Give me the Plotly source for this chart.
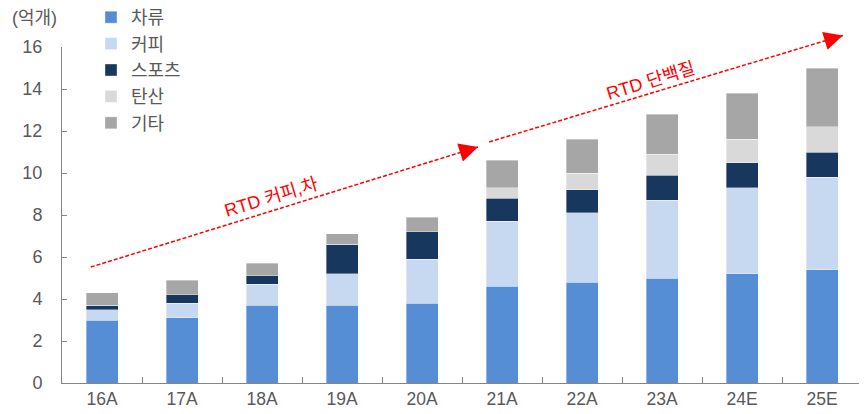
import math
import plotly.graph_objects as go

categories = ["16A", "17A", "18A", "19A", "20A", "21A", "22A", "23A", "24E", "25E"]
tea = [3.0, 3.1, 3.7, 3.7, 3.8, 4.6, 4.8, 5.0, 5.2, 5.4]          # 차류
coffee = [0.5, 0.7, 1.0, 1.5, 2.1, 3.1, 3.3, 3.7, 4.1, 4.4]       # 커피
sports = [0.2, 0.4, 0.4, 1.4, 1.3, 1.1, 1.1, 1.2, 1.2, 1.2]       # 스포츠
soda = [0.0, 0.0, 0.0, 0.0, 0.0, 0.5, 0.8, 1.0, 1.1, 1.2]         # 탄산
other = [0.6, 0.7, 0.6, 0.5, 0.7, 1.3, 1.6, 1.9, 2.2, 2.8]        # 기타

series_names = ["차류", "커피", "스포츠", "탄산", "기타"]
series_values = [tea, coffee, sports, soda, other]
series_colors = ["#558ED5", "#C6D9F1", "#17375E", "#D9D9D9", "#A6A6A6"]

y_ticks = [0, 2, 4, 6, 8, 10, 12, 14, 16]
unit_label = "(억개)"

# trend arrows (category index, value)
arrow1 = ((-0.14, 5.52), (4.7, 11.24))
arrow2 = ((4.84, 11.48), (9.26, 16.55))
label1 = ("RTD 커피,차", 2.12, 8.85)
label2 = ("RTD 단백질", 6.85, 14.4)

FONT = "Liberation Sans, Noto Sans CJK KR, sans-serif"
# page has an 8px body offset; figure sized so the plot area lands where the reference has it
W, H = 859, 406
ML, MR, MT, MB = 54, 5, 39, 31
PW, PH = W - ML - MR, H - MT - MB
YMAX = 16
N = len(categories)

def px(xi):
    return (xi + 0.5) / N

def py(y):
    return y / YMAX

def fx(x_fig):
    return (x_fig - ML) / PW

def fy(y_fig):
    return 1 - (y_fig - MT) / PH

fig = go.Figure()
for name, vals, col in zip(series_names, series_values, series_colors):
    fig.add_trace(go.Bar(
        x=categories, y=vals, name=name,
        marker=dict(color=col, line=dict(color="rgba(255,255,255,0.6)", width=0.6)),
        width=0.4,
    ))

shapes = []
annotations = []
for (x0, y0), (x1, y1) in [arrow1, arrow2]:
    shapes.append(dict(type="line", xref="paper", yref="paper",
                       x0=px(x0), y0=py(y0), x1=px(x1), y1=py(y1),
                       line=dict(color="#FF0000", width=1.5, dash="4px,2px")))
    dxp = (x1 - x0) * PW / N
    dyp = -(y1 - y0) * PH / YMAX
    L = math.hypot(dxp, dyp)
    annotations.append(dict(xref="paper", yref="paper", x=px(x1), y=py(y1),
                            ax=-dxp / L * 14, ay=-dyp / L * 14, text="",
                            showarrow=True, arrowhead=2, arrowsize=2.5, arrowwidth=1.5,
                            arrowcolor="#FF0000", standoff=0))

for txt, xi, yv in [label1, label2]:
    annotations.append(dict(xref="paper", yref="paper", x=px(xi), y=py(yv),
                            xanchor="center", yanchor="middle",
                            text=txt, showarrow=False, textangle=-17,
                            font=dict(family=FONT, size=18, color="#FF0000")))

annotations.append(dict(xref="paper", yref="paper", x=fx(2), y=fy(10),
                        xanchor="left", yanchor="middle", text=unit_label, showarrow=False,
                        font=dict(family=FONT, size=18, color="#595959")))

fig.update_layout(
    width=W, height=H,
    margin=dict(l=ML, r=MR, t=MT, b=MB, autoexpand=False),
    barmode="stack",
    bargap=0.6,
    plot_bgcolor="white", paper_bgcolor="white",
    font=dict(family=FONT, size=18, color="#595959"),
    showlegend=True,
    legend=dict(x=fx(83), y=fy(-9), xanchor="left", yanchor="top",
                traceorder="normal", bgcolor="rgba(0,0,0,0)",
                font=dict(family=FONT, size=18, color="#595959"),
                itemwidth=30),
    shapes=shapes,
    annotations=annotations,
    xaxis=dict(type="category", showline=True, linecolor="#868686", linewidth=1,
               ticks="inside", ticklen=6, tickcolor="#868686", tickson="boundaries",
               showgrid=False, automargin=False,
               tickfont=dict(family=FONT, size=17.5, color="#595959")),
    yaxis=dict(range=[0, YMAX], tickvals=y_ticks, showline=True, linecolor="#868686",
               linewidth=1, ticks="inside", ticklen=5, tickcolor="#868686",
               showgrid=False, zeroline=False, ticklabelstandoff=15, automargin=False,
               tickfont=dict(family=FONT, size=18, color="#595959")),
)

fig.write_html("out.html")
